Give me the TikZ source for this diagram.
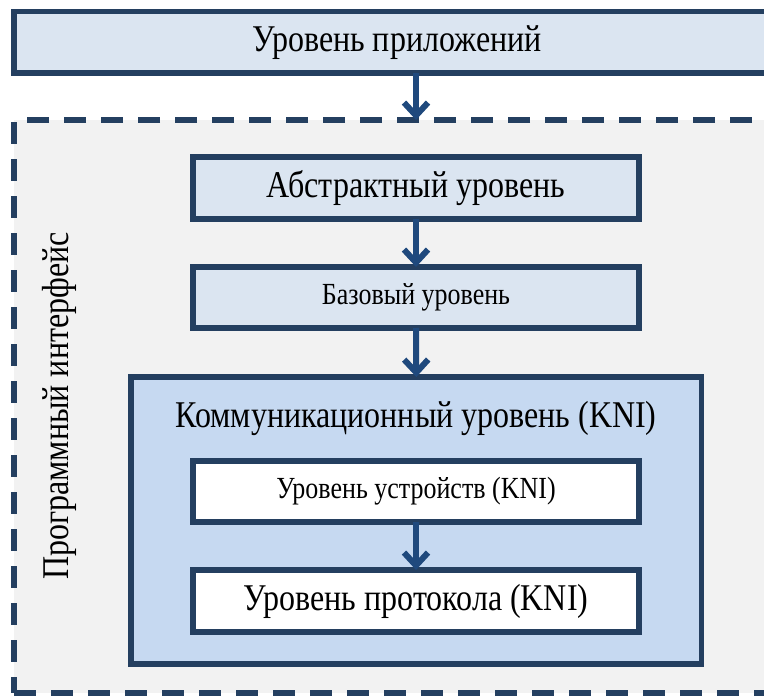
\documentclass[tikz,border=0pt]{standalone}
\usepackage{fontspec}
\setmainfont{Liberation Serif}
\usetikzlibrary{arrows.meta}
\definecolor{bordc}{HTML}{243F60}
\definecolor{arrc}{HTML}{1F497D}
\definecolor{lightb}{HTML}{DBE5F1}
\definecolor{midb}{HTML}{C6D9F1}
\definecolor{grayf}{HTML}{F2F2F2}
\newcommand{\tallt}[1]{\scalebox{1}[1.18]{#1}}
\tikzset{
  lvbox/.style={draw=bordc, line width=5.5pt, rectangle, inner sep=0pt, outer sep=0pt},
  bigt/.style={font=\fontsize{32}{36}\selectfont},
  smallt/.style={font=\fontsize{26}{30}\selectfont},
  arr/.style={draw=arrc, line width=6pt, -{Straight Barb[length=13pt,width=24pt]}},
}
\begin{document}
\begin{tikzpicture}[x=1pt,y=-1pt]
\useasboundingbox (0,0) rectangle (764,696);
\clip (0,0) rectangle (764,696);
\fill[white] (0,0) rectangle (764,696);
% dashed program interface area
\node[lvbox, fill=grayf, dash pattern=on 22pt off 15pt, minimum width=804pt, minimum height=573pt] (api) at (416,406.5) {};
% application level
\node[lvbox, fill=lightb, minimum width=766pt, minimum height=61.5pt] (app) at (397,42.25) {};
\node[bigt] (appt) at (397,43) {\tallt{Уровень приложений}};
% abstract
\node[lvbox, fill=lightb, minimum width=446pt, minimum height=62pt, bigt] (abs) at (416,188) {\tallt{Абстрактный уровень}};
% base
\node[lvbox, fill=lightb, minimum width=446pt, minimum height=61pt, smallt] (base) at (416,297.5) {\tallt{Базовый уровень}};
% communication
\node[lvbox, fill=midb, minimum width=570.7pt, minimum height=287pt] (comm) at (416.3,520.5) {};
\node[bigt] (commt) at (416,418) {\tallt{Коммуникационный уровень (KNI)}};
\node[lvbox, fill=white, minimum width=446pt, minimum height=61pt, smallt] (dev) at (416,491.5) {\tallt{Уровень устройств (KNI)}};
\node[lvbox, fill=white, minimum width=446pt, minimum height=62pt, bigt] (proto) at (416,601) {\tallt{Уровень протокола (KNI)}};
% vertical label
\node[bigt, rotate=90] (apit) at (59,406) {\tallt{Программный интерфейс}};
% arrows
\draw[arr] (abs.north |- app.south) -- (abs.north |- api.north);
\draw[arr] (abs.south) -- (base.north);
\draw[arr] (base.south) -- (comm.north);
\draw[arr] (dev.south) -- (proto.north);
\end{tikzpicture}
\end{document}
